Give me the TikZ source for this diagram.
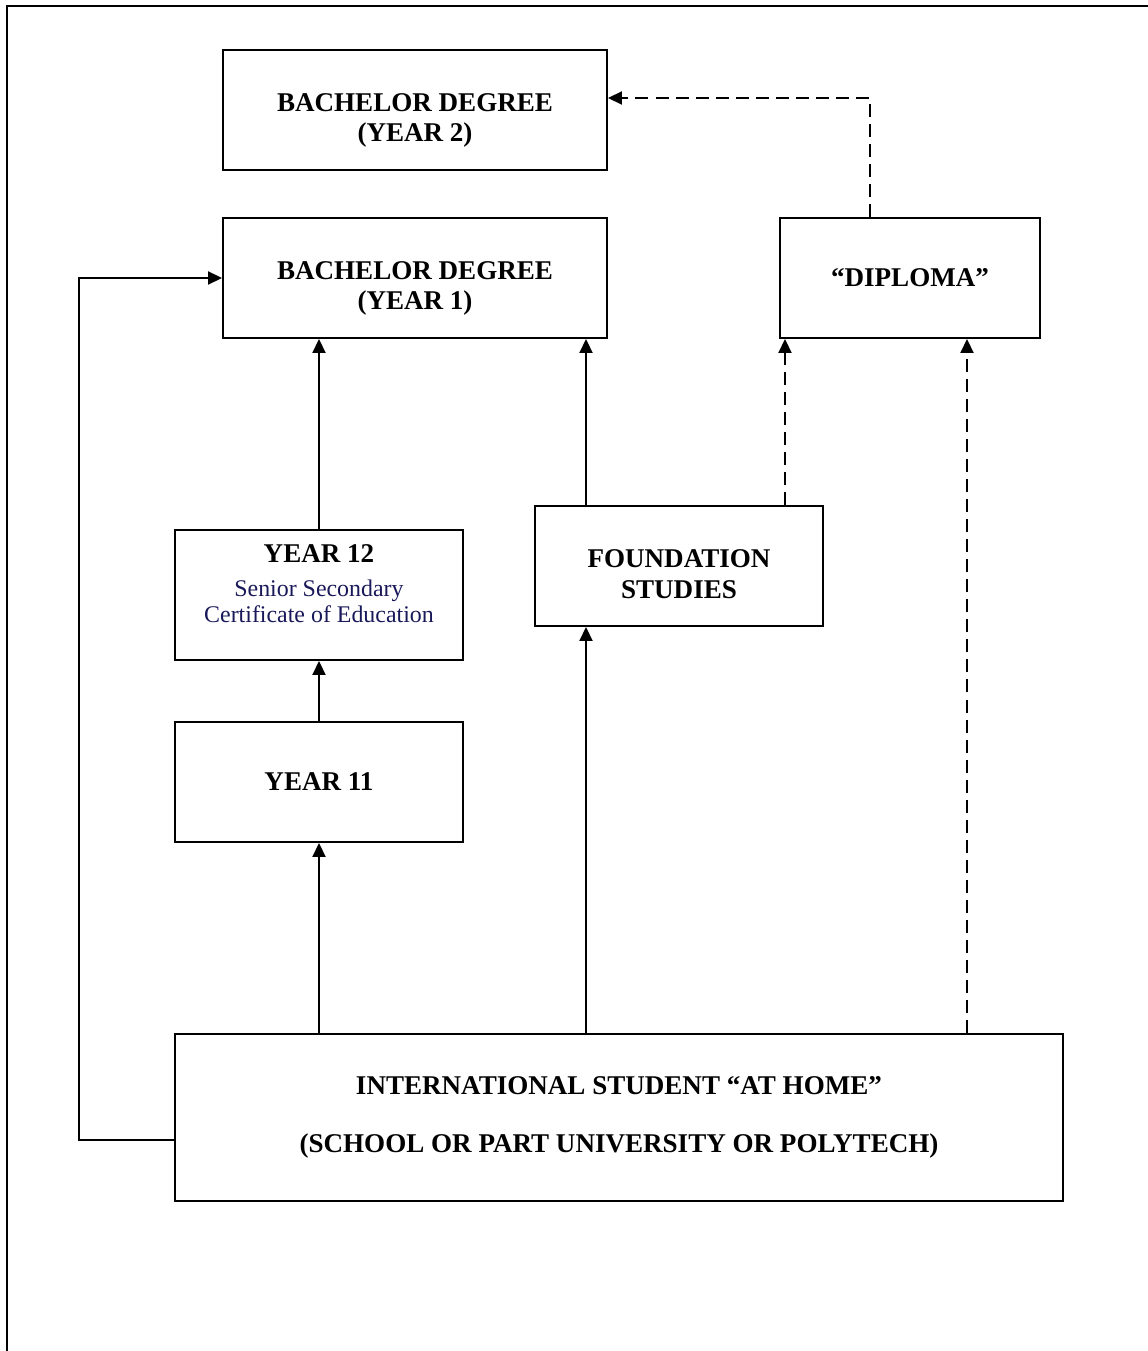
\documentclass[tikz,border=0pt]{standalone}
\usepackage{fontspec}
\setmainfont{Liberation Serif}
\usetikzlibrary{arrows.meta,positioning}
\definecolor{certblue}{RGB}{25,25,90}
\newcommand{\topgap}[1]{\mbox{}\\[#1]}
\newcommand{\certtext}{\mdseries\color{certblue}\fontsize{13.6}{15.4}\selectfont}
\tikzset{
  box/.style={draw,line width=1.1pt,align=center,font=\bfseries\fontsize{15.4}{17}\selectfont,minimum width=5.76cm,minimum height=2.4cm},
  link/.style={line width=1.1pt,-{Triangle[length=0.28cm,width=0.26cm]}},
  dlink/.style={link,dash pattern=on 7.4pt off 4pt},
}

\begin{document}
\begin{tikzpicture}
  \useasboundingbox (0,0) rectangle (22.96,-27.02);
  % outer frame (top and left only)
  \draw[line width=1.1pt] (22.96,-0.12) -- (0.14,-0.12) -- (0.14,-27.02);
  \node[box,minimum width=7.68cm] (bdtwo) at (8.30,-2.20) {\topgap{4.7pt}BACHELOR DEGREE\\(YEAR 2)};
  \node[box,minimum width=7.68cm] (bdone) at (8.30,-5.56) {\topgap{4.7pt}BACHELOR DEGREE\\(YEAR 1)};
  \node[box,minimum width=5.20cm] (diploma) at (18.20,-5.56) {“DIPLOMA”};
  \node[box,minimum height=2.6cm] (yeartwelve) at (6.38,-11.90)
    {YEAR 12\\[2pt]{\certtext Senior Secondary}\\[-2pt]
     {\certtext Certificate of Education}\\[-4pt]};
  \node[box] (foundation) at (13.58,-11.32) {\topgap{2.4pt}FOUNDATION\\[1pt]STUDIES};
  \node[box] (yeareleven) at (6.38,-15.64) {YEAR 11};
  \node[box,minimum width=17.76cm,minimum height=3.34cm] (home) at (12.38,-22.35)
    {INTERNATIONAL STUDENT “AT HOME”\\[16pt](SCHOOL OR PART UNIVERSITY OR POLYTECH)};
  % school route
  \draw[link] (home.north -| yeareleven) -- (yeareleven.south);
  \draw[link] (yeareleven.north) -- (yeartwelve.south);
  \draw[link] (yeartwelve.north) -- (yeartwelve.north |- bdone.south);
  % foundation route
  \coordinate (fx) at (11.72,0);
  \draw[link] (home.north -| fx) -- (foundation.south -| fx);
  \draw[link] (foundation.north -| fx) -- (bdone.south -| fx);
  % diploma routes
  \coordinate (dxa) at (15.70,0);
  \coordinate (dxb) at (19.34,0);
  \draw[dlink] (foundation.north -| dxa) -- (diploma.south -| dxa);
  \draw[dlink] (home.north -| dxb) -- (diploma.south -| dxb);
  \draw[dlink] ([xshift=-0.8cm]diploma.north) |- ([yshift=0.24cm]bdtwo.east);
  % direct entry
  \draw[link] ([yshift=-0.45cm]home.west) -- (1.58,-22.80) |- (bdone.west);
\end{tikzpicture}
\end{document}
